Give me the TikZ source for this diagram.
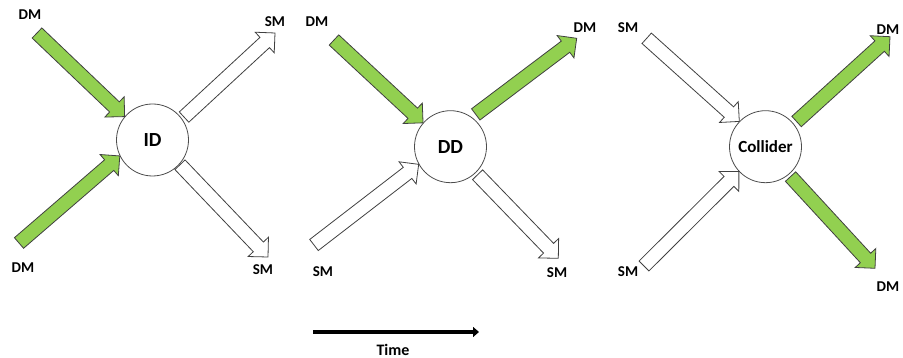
\documentclass[tikz,border=0pt]{standalone}
\usepackage{fontspec}
\setmainfont{Carlito}
\usepackage{tikz}
\usetikzlibrary{calc,arrows.meta}
\definecolor{dmgreen}{RGB}{146,208,80}

% fat block arrow from #2 to #3
\newcommand{\fatarrow}[3]{%
\coordinate (fa-h) at ($(#3)!14pt!(#2)$);
\draw[#1] ($(#2)!7pt!90:(#3)$) -- ($(fa-h)!7pt!90:(#3)$) -- ($(fa-h)!14pt!90:(#3)$) -- (#3)
  -- ($(fa-h)!14pt!-90:(#3)$) -- ($(fa-h)!7pt!-90:(#3)$) -- ($(#2)!7pt!-90:(#3)$) -- cycle;}

\begin{document}
\begin{tikzpicture}[x=1pt, y=1pt,
proc/.style = {draw=black!70, line width=0.8pt, circle, minimum size=72pt, inner sep=0pt, font=\fontsize{20}{20}\selectfont\bfseries},
dmarrow/.style = {draw=black!75, line width=0.8pt, fill=dmgreen},
smarrow/.style = {draw=black!75, line width=0.8pt, fill=white}]
\tikzstyle{every node}=[font=\fontsize{15}{15}\selectfont\bfseries]
\useasboundingbox (0,0) rectangle (903,358);

% ID
\node[proc] (id) at (152.5,218) {ID};
\coordinate (id-in1) at (37,325);
\coordinate (id-in2) at (19,115);
\coordinate (id-out1) at ($(id.center)+(36:39pt)$);
\coordinate (id-out2) at ($(id.center)+(-42:37pt)$);
\coordinate (id-sm1) at (275,325);
\coordinate (id-sm2) at (268,101);
\fatarrow{dmarrow}{id-in1}{id.140}
\fatarrow{dmarrow}{id-in2}{id.206}
\fatarrow{smarrow}{id-out1}{id-sm1}
\fatarrow{smarrow}{id-out2}{id-sm2}
\node (l1) at (30,343) {DM};
\node (l2) at (23,90) {DM};
\node (l3) at (275,336) {SM};
\node (l4) at (263,88) {SM};

% DD
\node[proc] (dd) at (450.5,211.3) {DD};
\coordinate (dd-in1) at (334,318);
\coordinate (dd-in2) at (314,113);
\coordinate (dd-out1) at ($(dd.center)+(52:41pt)$);
\coordinate (dd-out2) at ($(dd.center)+(-46:39pt)$);
\coordinate (dd-dm) at (576.7,319.7);
\coordinate (dd-sm) at (558.3,99.7);
\fatarrow{dmarrow}{dd-in1}{dd.139}
\fatarrow{smarrow}{dd-in2}{dd.209}
\fatarrow{dmarrow}{dd-out1}{dd-dm}
\fatarrow{smarrow}{dd-out2}{dd-sm}
\node (l5) at (317,336) {DM};
\node (l6) at (585,330) {DM};
\node (l7) at (323,86) {SM};
\node (l8) at (557,85) {SM};

% Collider
\node[proc, font=\fontsize{17}{17}\selectfont\bfseries] (col) at (765.5,211.3) {Collider};
\coordinate (col-in1) at (646.7,319.7);
\coordinate (col-in2) at (644,92);
\coordinate (col-out1) at ($(col.center)+(39:40pt)$);
\coordinate (col-out2) at ($(col.center)+(-50:39pt)$);
\coordinate (col-dm1) at (890,321.3);
\coordinate (col-dm2) at (875,89.7);
\fatarrow{smarrow}{col-in1}{col.136}
\fatarrow{smarrow}{col-in2}{col.223}
\fatarrow{dmarrow}{col-out1}{col-dm1}
\fatarrow{dmarrow}{col-out2}{col-dm2}
\node (l9) at (628,330) {SM};
\node (l10) at (628,86) {SM};
\node (l11) at (888,328) {DM};
\node (l12) at (888,71) {DM};

% time axis
\coordinate (t0) at (313,26);
\coordinate (t1) at (479,26);
\draw[line width=4.5pt, -{Triangle[length=6pt,width=10pt]}] (t0) -- (t1);
\node[font=\fontsize{16}{16}\selectfont\bfseries] (time) at (393,8) {Time};
\end{tikzpicture}
\end{document}
